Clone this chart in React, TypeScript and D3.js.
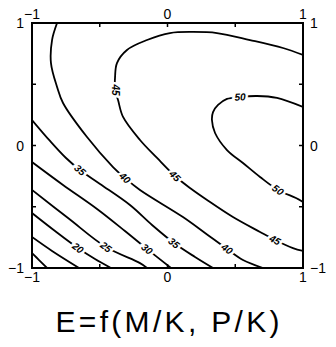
import React from 'react';
import * as d3 from 'd3';

const WIDTH = 336;
const HEIGHT = 347;

// contour levels, each traced as a path in (M/K, P/K) units
const levels = [10, 15, 20, 25, 30, 35, 40, 45, 50];

const line10 = [[-1, -0.878], [-0.948, -0.935], [-0.889, -1]];
const line15 = [[-1, -0.747], [-0.852, -0.861], [-0.653, -1]];
const line20 = [[-1, -0.551], [-0.83, -0.698], [-0.661, -0.837], [-0.535, -0.927], [-0.417, -1]];
const line25 = [[-1, -0.363], [-0.734, -0.592], [-0.454, -0.829], [-0.203, -0.96], [-0.151, -1]];
const line30 = [[-1, -0.135], [-0.771, -0.322], [-0.52, -0.518], [-0.314, -0.698], [-0.151, -0.845], [0.026, -1]];
const line35 = [[-1, 0.208], [-0.867, 0.037], [-0.749, -0.102], [-0.646, -0.2], [-0.498, -0.314], [-0.277, -0.486], [-0.114, -0.649], [0.048, -0.796], [0.203, -0.91], [0.336, -1]];
const line40 = [[-0.815, 1], [-0.852, 0.861], [-0.86, 0.673], [-0.815, 0.478], [-0.771, 0.347], [-0.594, 0.069], [-0.402, -0.176], [-0.314, -0.265], [-0.203, -0.363], [0.114, -0.584], [0.277, -0.714], [0.439, -0.845], [0.557, -0.935], [0.705, -1]];
const line45 = [[1, 0.739], [0.852, 0.796], [0.609, 0.861], [0.365, 0.918], [0.188, 0.927], [0.018, 0.918], [-0.151, 0.861], [-0.299, 0.78], [-0.373, 0.673], [-0.387, 0.559], [-0.387, 0.453], [-0.365, 0.371], [-0.328, 0.233], [-0.203, 0.045], [-0.077, -0.102], [0.055, -0.249], [0.166, -0.347], [0.292, -0.445], [0.483, -0.584], [0.683, -0.706], [0.793, -0.771], [0.926, -0.837], [1, -0.861]];
const line50 = [[1, 0.314], [0.808, 0.388], [0.661, 0.404], [0.535, 0.396], [0.439, 0.38], [0.373, 0.331], [0.336, 0.273], [0.328, 0.208], [0.351, 0.102], [0.439, -0.037], [0.557, -0.143], [0.683, -0.257], [0.815, -0.363], [0.948, -0.429], [1, -0.461]];

const contourLines = [line10, line15, line20, line25, line30, line35, line40, line45, line50];

// inline labels: [level, M/K, P/K]
const contourLabels = [
  [20, -0.661, -0.837],
  [25, -0.454, -0.829],
  [30, -0.151, -0.845],
  [35, -0.646, -0.2],
  [35, 0.048, -0.796],
  [40, -0.314, -0.265],
  [40, 0.439, -0.845],
  [45, -0.387, 0.453],
  [45, 0.055, -0.249],
  [45, 0.793, -0.771],
  [50, 0.535, 0.396],
  [50, 0.815, -0.363],
];

const axisTicks = [-1, 0, 1];
const minorTicks = [-0.5, 0, 0.5];

const title = 'E=f(M/K,  P/K)';

const fmt = (v: number) => (v < 0 ? '\u2212' + Math.abs(v) : String(v));

export default function App() {
  const left = 32, right = 303, top = 23, bottom = 268;
  const x = d3.scaleLinear().domain([-1, 1]).range([left, right]);
  const y = d3.scaleLinear().domain([-1, 1]).range([bottom, top]);

  const path = d3.line<number[]>()
    .x(d => x(d[0]))
    .y(d => y(d[1]))
    .curve(d3.curveCatmullRom.alpha(0.5));

  // put a label on the nearest point of its line and turn it along the line
  const placeLabel = (lab: number[]) => {
    const pts = contourLines[levels.indexOf(lab[0])].map(p => [x(p[0]), y(p[1])]);
    const px = x(lab[1]), py = y(lab[2]);
    let best = {d: Infinity, x: px, y: py, a: 0};
    for (let i = 0; i < pts.length - 1; i++) {
      const [x1, y1] = pts[i], [x2, y2] = pts[i + 1];
      const dx = x2 - x1, dy = y2 - y1;
      let t = ((px - x1) * dx + (py - y1) * dy) / (dx * dx + dy * dy);
      t = Math.max(0, Math.min(1, t));
      const qx = x1 + t * dx, qy = y1 + t * dy;
      const d = Math.hypot(px - qx, py - qy);
      if (d < best.d) {
        let a = Math.atan2(dy, dx) * 180 / Math.PI;
        if (a > 90) a -= 180;
        if (a < -90) a += 180;
        best = {d, x: qx, y: qy, a};
      }
    }
    return best;
  };

  const font = '"Liberation Sans", Arial, sans-serif';

  return (
    <svg width={WIDTH} height={HEIGHT} style={{position: 'absolute', left: 0, top: 0, background: '#fff'}}>
      <defs>
        <clipPath id="frame">
          <rect x={left} y={top} width={right - left} height={bottom - top} />
        </clipPath>
      </defs>

      <g clipPath="url(#frame)">
        {contourLines.map((ln, i) => (
          <path key={i} d={path(ln) || ''} fill="none" stroke="#000" strokeWidth={1.8} />
        ))}
        {contourLabels.map((lab, i) => {
          const p = placeLabel(lab);
          return (
            <text key={i} transform={`translate(${p.x},${p.y}) rotate(${p.a})`}
              textAnchor="middle" dy="0.35em" fontFamily={font} fontSize={10} fontWeight="bold"
              fontStyle="italic" fill="#000" stroke="#fff" strokeWidth={5} paintOrder="stroke">
              {lab[0]}
            </text>
          );
        })}
      </g>

      <rect x={left} y={top} width={right - left} height={bottom - top} fill="none" stroke="#000" strokeWidth={2} />

      {minorTicks.map(t => (
        <g key={'t' + t} stroke="#000" strokeWidth={1.5}>
          <line x1={x(t)} x2={x(t)} y1={top} y2={top + 4} />
          <line x1={x(t)} x2={x(t)} y1={bottom} y2={bottom - 4} />
          <line x1={left} x2={left + 4} y1={y(t)} y2={y(t)} />
          <line x1={right} x2={right - 4} y1={y(t)} y2={y(t)} />
        </g>
      ))}

      <g fontFamily={font} fontSize={14} fill="#000">
        {axisTicks.map(t => (
          <g key={'l' + t}>
            <text x={x(t)} y={top - 4} textAnchor="middle">{fmt(t)}</text>
            <text x={x(t)} y={bottom + 14} textAnchor="middle">{fmt(t)}</text>
            <text x={left - 8} y={y(t) + 5} textAnchor="end">{fmt(t)}</text>
            <text x={right + 7} y={y(t) + 5} textAnchor="start">{fmt(t)}</text>
          </g>
        ))}
      </g>

      <text x={(left + right) / 2} y={332} textAnchor="middle" fontFamily={font} fontSize={30}
        textLength={224} lengthAdjust="spacing" fill="#000">
        {title}
      </text>
    </svg>
  );
}
